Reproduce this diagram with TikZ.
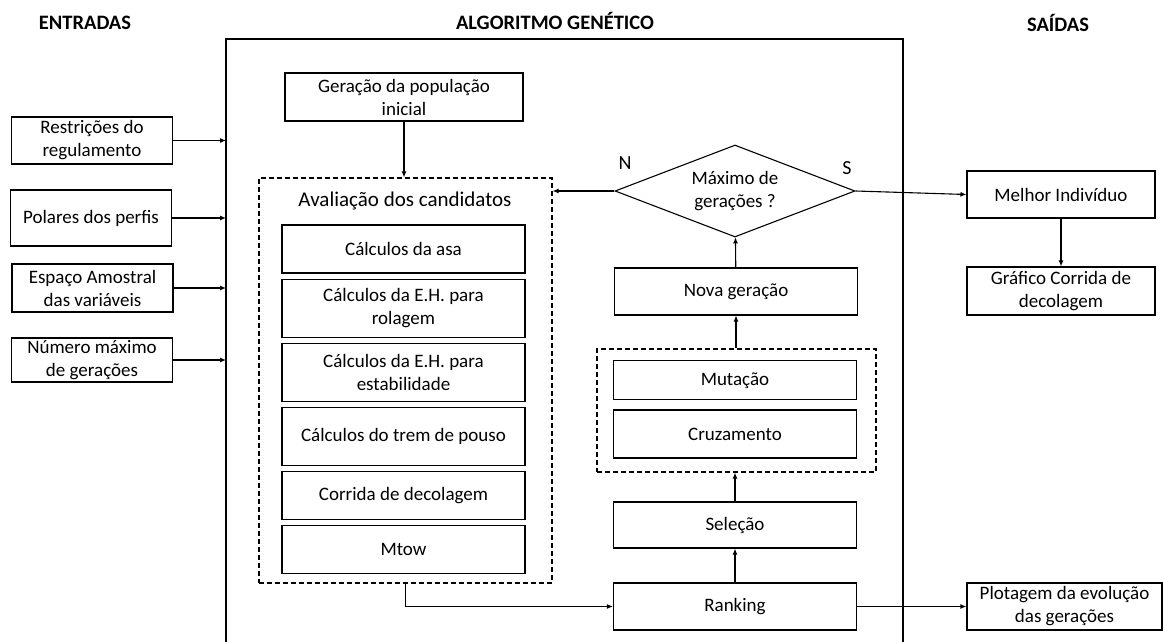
\documentclass[tikz,border=0pt]{standalone}
\usepackage{fontspec}
\setmainfont{Carlito}
\usetikzlibrary{arrows.meta,positioning,shapes.geometric}

\begin{document}
\begin{tikzpicture}[
  x=1pt, y=-1pt,
  box/.style={draw, line width=1.1pt, minimum width=243pt, minimum height=48pt, inner sep=2pt, align=center, font=\fontsize{19}{23}\selectfont},
  iobox/.style={box, minimum width=161pt},
  group/.style={draw, line width=1.1pt, dash pattern=on 5pt off 3pt, inner sep=0pt},
  title/.style={font=\fontsize{20.5}{24}\selectfont\bfseries},
  arrow/.style={-{Latex[length=6pt,width=5pt]}, line width=1.1pt}
]
\useasboundingbox (0,0) rectangle (1163,642);

% titles
\node[title] (tin) at (85,22.5) {ENTRADAS};
\node[title] (tga) at (555,21) {ALGORITMO GENÉTICO};
\node[title] (tout) at (1058,22.5) {SAÍDAS};

% genetic algorithm frame (open at the bottom)
\node[minimum width=677pt, minimum height=603pt, inner sep=0pt, outer sep=0pt] (ga) at (564.5,340.5) {};
\draw[line width=1.1pt] (ga.south west) |- (ga.north east) -- (ga.south east);

% inputs
\node[iobox, minimum height=47pt] (in1) at (92,140.5) {Restrições do\\regulamento};
\node[iobox, minimum height=56pt] (in2) at (91,218) {Polares dos perfis};
\node[iobox, minimum height=48pt] (in3) at (92.5,288) {Espaço Amostral\\das variáveis};
\node[iobox, minimum height=44pt] (in4) at (92,360) {Número máximo\\de gerações};
\draw[arrow] (in1.east) -- (in1.east -| ga.west);
\draw[arrow] (in2.east) -- (in2.east -| ga.west);
\draw[arrow] (in3.east) -- (in3.east -| ga.west);
\draw[arrow] (in4.east) -- (in4.east -| ga.west);

% evaluation block
\node[box, minimum width=238pt] (init) at (404,97) {Geração da população\\inicial};
\node[group, minimum width=293pt, minimum height=405pt] (aval) at (405.5,380.5) {};
\node[font=\fontsize{21}{25}\selectfont] (avaltitle) at (405,201) {Avaliação dos candidatos};
\node[box] (asa) at (403.5,249) {Cálculos da asa};
\node[box, minimum height=58pt, below=5pt of asa] (rol) {Cálculos da E.H. para\\rolagem};
\node[box, minimum height=58pt, below=5pt of rol] (est) {Cálculos da E.H. para\\estabilidade};
\node[box, minimum height=58pt, below=5pt of est] (trem) {Cálculos do trem de pouso};
\node[box, below=5pt of trem] (corr) {Corrida de decolagem};
\node[box, below=5pt of corr] (mtow) {Mtow};
\draw[arrow] (init) -- (init |- aval.north);

% generation loop
\node[box, minimum height=47pt] (rank) at (735,606.5) {Ranking};
\node[box, minimum height=46pt] (sel) at (735,525) {Seleção};
\node[group, minimum width=279pt, minimum height=123pt] (gen) at (736.5,410.5) {};
\node[box] (cruz) at (735,434) {Cruzamento};
\node[box, minimum height=39pt, above=9pt of cruz] (mut) {Mutação};
\node[box, minimum height=47pt] (nova) at (736,291.5) {Nova geração};
\node[diamond, draw, aspect=2.6, line width=1.1pt, minimum width=240pt, minimum height=92pt, inner sep=0pt, align=center, font=\fontsize{19}{23}\selectfont] (dec) at (735,191) {Máximo de\\gerações ?};
\node[font=\fontsize{20}{24}\selectfont] (lno) at (625,163) {N};
\node[font=\fontsize{20}{24}\selectfont] (lyes) at (847,168) {S};
\draw[arrow] (aval.south) |- (rank.west);
\draw[arrow] (rank) -- (sel);
\draw[arrow] (sel) -- (sel |- gen.south);
\draw[arrow] (gen.north -| nova) -- (nova);
\draw[arrow] (nova) -- (dec);
\draw[arrow] (dec.west) -- (dec.west -| aval.east);

% outputs
\node[box, minimum width=188pt, minimum height=47pt] (best) at (1061,194.5) {Melhor Indivíduo};
\node[box, minimum width=188pt] (graf) at (1061,291) {Gráfico Corrida de\\decolagem};
\node[box, minimum width=195pt, minimum height=47pt] (plot) at (1064.5,606.5) {Plotagem da evolução\\das gerações};
\draw[arrow] (dec.east) -- (best.west);
\draw[arrow] (best) -- (graf);
\draw[arrow] (rank.east) -- (plot.west);
\end{tikzpicture}
\end{document}
